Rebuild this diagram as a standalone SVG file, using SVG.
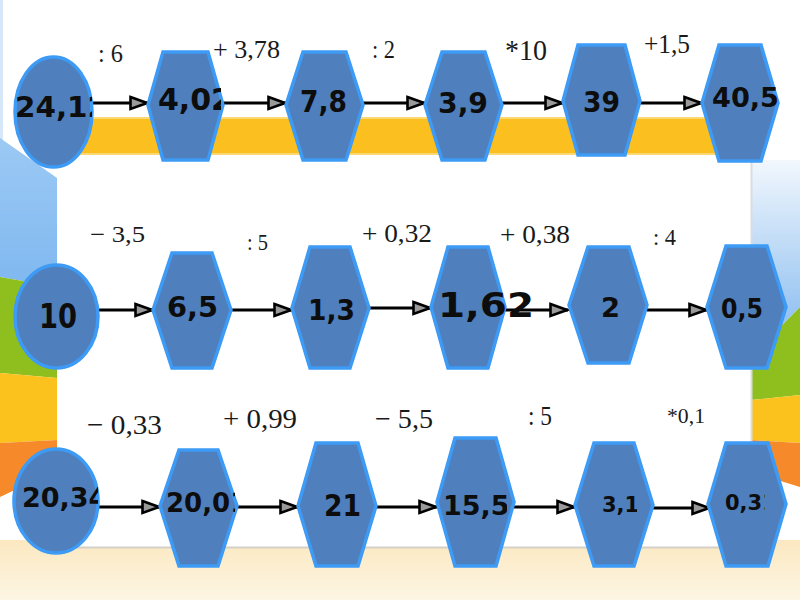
<svg xmlns="http://www.w3.org/2000/svg" width="800" height="600" viewBox="0 0 800 600">
<style>
.nd{fill:#4f7fbc;stroke:#3d9af5;stroke-width:3.5}
.nt{font-family:"DejaVu Sans","Verdana",sans-serif;font-weight:bold;fill:#0d0d0d}
.lb{font-family:"Liberation Serif","Times New Roman",serif;fill:#1a1a1a}
.cn{stroke:#000;stroke-width:2.8;fill:none;marker-end:url(#ah)}
</style>
<defs>
<marker id="ah" markerUnits="userSpaceOnUse" viewBox="0 0 20 16" refX="19" refY="8" markerWidth="20" markerHeight="16" orient="auto">
<path d="M1.5,2 L18,8 L1.5,14 Z" fill="#9a9a9a" stroke="#000" stroke-width="2.6" stroke-linejoin="miter"/>
</marker>
<linearGradient id="cream" x1="0" y1="0" x2="0" y2="1">
<stop offset="0" stop-color="#fbe8c0"/><stop offset="1" stop-color="#fdf6e4"/>
</linearGradient>
<linearGradient id="sky" x1="0" y1="0" x2="0" y2="1">
<stop offset="0" stop-color="#f2f7fd"/><stop offset="1" stop-color="#7db6ee"/>
</linearGradient>
<linearGradient id="skyL" x1="0" y1="0" x2="0" y2="1">
<stop offset="0" stop-color="#9cc9f4"/><stop offset="1" stop-color="#7fb8f0"/>
</linearGradient>
<clipPath id="c1"><rect x="10" y="60" width="82" height="100"/></clipPath>
<clipPath id="c2"><rect x="148" y="52" width="73" height="108"/></clipPath>
<clipPath id="c3"><rect x="702" y="45" width="76" height="116"/></clipPath>
<clipPath id="c4"><rect x="431" y="247" width="102" height="121"/></clipPath>
<clipPath id="c5"><rect x="14" y="449" width="84" height="104"/></clipPath>
<clipPath id="c6"><rect x="160" y="450" width="75" height="116"/></clipPath>
<clipPath id="c7"><rect x="437" y="438" width="70" height="128"/></clipPath>
<clipPath id="c8"><rect x="575" y="443" width="62" height="123"/></clipPath>
<clipPath id="c9"><rect x="708" y="443" width="57" height="123"/></clipPath>
</defs>

<g id="background">
<rect x="0" y="0" width="800" height="600" fill="#ffffff"/>
<rect x="0" y="0" width="3" height="140" fill="#d6e7f8"/>
<rect x="0" y="540" width="800" height="60" fill="url(#cream)"/>
<polygon points="0,138 57,178 57,287 0,277" fill="url(#skyL)"/>
<polygon points="0,277 57,287 57,378 0,373" fill="#8fbf1e"/>
<polygon points="0,373 57,378 57,440 0,443" fill="#fbc21d"/>
<polygon points="0,443 57,440 57,470 0,497" fill="#f68a2b"/>
<polygon points="751,160 800,160 800,307 751,357" fill="url(#sky)"/>
<polygon points="751,357 800,307 800,395 751,400" fill="#8fbf1e"/>
<polygon points="751,400 800,395 800,443 751,440" fill="#fbc21d"/>
<polygon points="751,440 800,443 800,487 751,472" fill="#f68a2b"/>
<rect x="57" y="155" width="694" height="392" fill="#ffffff"/>
<line x1="57" y1="547.5" x2="751" y2="547.5" stroke="#d4d0c8" stroke-width="2"/>
<line x1="751.5" y1="155" x2="751.5" y2="547" stroke="#d8dde4" stroke-width="2"/>
<rect x="60" y="117" width="658" height="38" fill="#fbbf1f"/>
<rect x="60" y="117" width="658" height="2" fill="#fcd873"/>
<rect x="60" y="153" width="658" height="2" fill="#fcd873"/>
</g>

<g id="connectors">
<line class="cn" x1="92" y1="103" x2="148" y2="103"/>
<line class="cn" x1="223" y1="103" x2="286" y2="103"/>
<line class="cn" x1="363" y1="103" x2="425" y2="103"/>
<line class="cn" x1="502" y1="103" x2="563" y2="103"/>
<line class="cn" x1="640" y1="103" x2="702" y2="103"/>
<line class="cn" x1="98" y1="310" x2="153" y2="310"/>
<line class="cn" x1="231" y1="310" x2="292" y2="310"/>
<line class="cn" x1="369" y1="308" x2="431" y2="308"/>
<line class="cn" x1="505" y1="310" x2="568" y2="310"/>
<line class="cn" x1="647" y1="310" x2="707" y2="310"/>
<line class="cn" x1="98" y1="507" x2="160" y2="507"/>
<line class="cn" x1="237" y1="507" x2="298" y2="507"/>
<line class="cn" x1="376" y1="507" x2="437" y2="507"/>
<line class="cn" x1="514" y1="507" x2="575" y2="507"/>
<line class="cn" x1="653" y1="508" x2="710" y2="508"/>
</g>

<g id="n-24-12"><ellipse class="nd" cx="53.5" cy="112" rx="38.5" ry="55"/><text class="nt" x="15" y="117" font-size="28" textLength="93" lengthAdjust="spacingAndGlyphs" clip-path="url(#c1)">24,12</text></g>
<g id="n-4-02"><polygon class="nd" points="148,105 163,52 208,52 223,105 208,160 163,160"/><text class="nt" x="158" y="110" font-size="30" textLength="74" lengthAdjust="spacingAndGlyphs" clip-path="url(#c2)">4,02</text></g>
<g id="n-7-8"><polygon class="nd" points="286,105 303,52 346,52 363,105 346,160 303,160"/><text class="nt" x="300" y="112" font-size="30" textLength="47" lengthAdjust="spacingAndGlyphs">7,8</text></g>
<g id="n-3-9"><polygon class="nd" points="425,105 442,52 485,52 502,105 485,160 442,160"/><text class="nt" x="438" y="113" font-size="29" textLength="50" lengthAdjust="spacingAndGlyphs">3,9</text></g>
<g id="n-39"><polygon class="nd" points="563,101 578,45 625,45 640,101 625,155 578,155"/><text class="nt" x="583" y="112" font-size="28" textLength="37" lengthAdjust="spacingAndGlyphs">39</text></g>
<g id="n-40-5"><polygon class="nd" points="702,103 719,45 761,45 778,103 761,161 719,161"/><text class="nt" x="712" y="107" font-size="27" textLength="67" lengthAdjust="spacingAndGlyphs" clip-path="url(#c3)">40,5</text></g>

<g id="n-10"><ellipse class="nd" cx="56.5" cy="316.5" rx="41.5" ry="51.5"/><text class="nt" x="39" y="328" font-size="34" textLength="38" lengthAdjust="spacingAndGlyphs">10</text></g>
<g id="n-6-5"><polygon class="nd" points="153,310 172,253 212,253 231,310 212,368 172,368"/><text class="nt" x="167" y="317" font-size="28" textLength="51" lengthAdjust="spacingAndGlyphs">6,5</text></g>
<g id="n-1-3"><polygon class="nd" points="292,308 310,247 350,247 369,308 350,368 310,368"/><text class="nt" x="308" y="320" font-size="29" textLength="47" lengthAdjust="spacingAndGlyphs">1,3</text></g>
<g id="n-1-62"><polygon class="nd" points="431,307 448,247 488,247 505,307 488,368 448,368"/><text class="nt" x="438" y="317" font-size="33" textLength="96" lengthAdjust="spacingAndGlyphs" clip-path="url(#c4)">1,62</text></g>
<g id="n-2"><polygon class="nd" points="569,305 588,247 629,247 647,305 629,363 588,363"/><text class="nt" x="601" y="317" font-size="27" textLength="19" lengthAdjust="spacingAndGlyphs">2</text></g>
<g id="n-0-5"><polygon class="nd" points="707,307 726,246 767,246 786,307 767,368 726,368"/><text class="nt" x="721" y="318" font-size="26" textLength="42" lengthAdjust="spacingAndGlyphs">0,5</text></g>

<g id="n-20-34"><ellipse class="nd" cx="56" cy="501" rx="42" ry="52"/><text class="nt" x="22" y="507" font-size="27" clip-path="url(#c5)">20,34</text></g>
<g id="n-20-01"><polygon class="nd" points="160,506 179,450 218,450 237,506 218,566 179,566"/><text class="nt" x="166" y="512" font-size="26" clip-path="url(#c6)">20,01</text></g>
<g id="n-21"><polygon class="nd" points="298,506 316,443 358,443 376,506 358,566 316,566"/><text class="nt" x="324" y="516" font-size="30" textLength="37" lengthAdjust="spacingAndGlyphs">21</text></g>
<g id="n-15-5"><polygon class="nd" points="437,502 455,438 496,438 514,502 496,566 455,566"/><text class="nt" x="443" y="515" font-size="27" clip-path="url(#c7)">15,5</text></g>
<g id="n-3-1"><polygon class="nd" points="575,505 594,443 634,443 653,505 634,566 594,566"/><text class="nt" x="602" y="512" font-size="21" clip-path="url(#c8)">3,1</text></g>
<g id="n-0-31"><polygon class="nd" points="708,504 726,443 768,443 786,504 768,566 726,566"/><text class="nt" x="725" y="510" font-size="21" clip-path="url(#c9)">0,31</text></g>

<g id="labels">
<text class="lb" x="98" y="62" font-size="25" textLength="25" lengthAdjust="spacingAndGlyphs">: 6</text>
<text class="lb" x="213" y="58" font-size="25" textLength="67" lengthAdjust="spacingAndGlyphs">+ 3,78</text>
<text class="lb" x="372" y="58" font-size="25" textLength="23" lengthAdjust="spacingAndGlyphs">: 2</text>
<text class="lb" x="505" y="60" font-size="29" textLength="42" lengthAdjust="spacingAndGlyphs">*10</text>
<text class="lb" x="644" y="53" font-size="27" textLength="46" lengthAdjust="spacingAndGlyphs">+1,5</text>
<text class="lb" x="90" y="242" font-size="23" textLength="55" lengthAdjust="spacingAndGlyphs">− 3,5</text>
<text class="lb" x="247" y="250" font-size="24" textLength="21" lengthAdjust="spacingAndGlyphs">: 5</text>
<text class="lb" x="362" y="242" font-size="25" textLength="70" lengthAdjust="spacingAndGlyphs">+ 0,32</text>
<text class="lb" x="500" y="243" font-size="25" textLength="70" lengthAdjust="spacingAndGlyphs">+ 0,38</text>
<text class="lb" x="653" y="245" font-size="24" textLength="23" lengthAdjust="spacingAndGlyphs">: 4</text>
<text class="lb" x="87" y="434" font-size="28" textLength="75" lengthAdjust="spacingAndGlyphs">− 0,33</text>
<text class="lb" x="223" y="428" font-size="28" textLength="74" lengthAdjust="spacingAndGlyphs">+ 0,99</text>
<text class="lb" x="375" y="428" font-size="28" textLength="58" lengthAdjust="spacingAndGlyphs">− 5,5</text>
<text class="lb" x="528" y="425" font-size="27" textLength="24" lengthAdjust="spacingAndGlyphs">: 5</text>
<text class="lb" x="667" y="423" font-size="22" textLength="38" lengthAdjust="spacingAndGlyphs">*0,1</text>
</g>
</svg>
